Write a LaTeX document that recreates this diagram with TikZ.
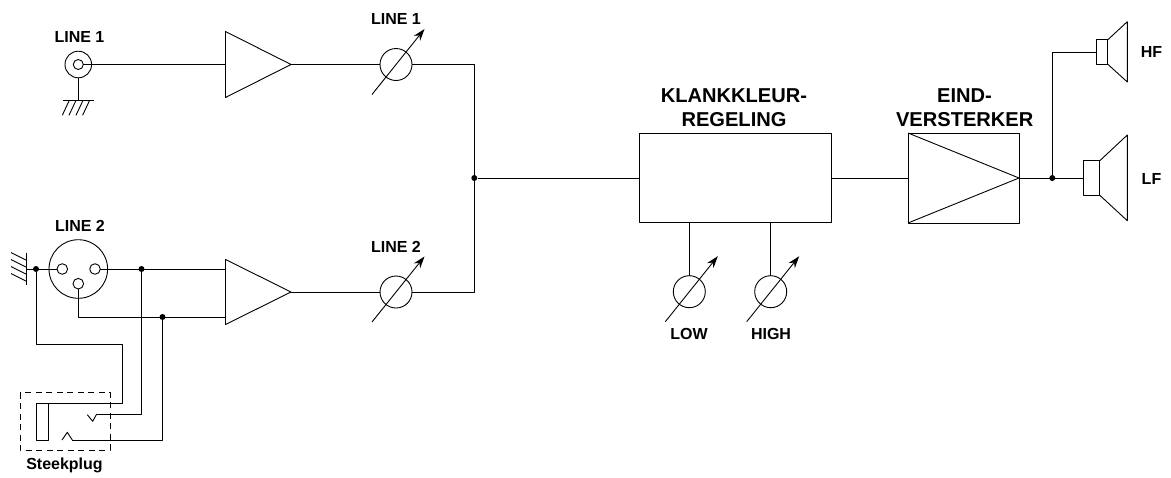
\documentclass[tikz,border=0pt]{standalone}
\usepackage{fontspec}
\setmainfont{Liberation Sans}
\usetikzlibrary{arrows.meta}
\tikzset{
  lbl/.style={inner sep=0pt,font=\fontsize{16}{16}\selectfont\bfseries},
  biglbl/.style={inner sep=0pt,font=\fontsize{20.1}{20.1}\selectfont\bfseries},
  ring/.style={draw,circle,inner sep=0pt,outer sep=0pt,minimum size=#1},
  joint/.style={fill,circle,inner sep=0pt,minimum size=6pt},
  unit/.style={draw,inner sep=0pt,outer sep=0pt},
}
\begin{document}
\begin{tikzpicture}[x=1pt,y=-1pt,line join=round,line width=.9pt,>={Stealth[length=12pt,width=8pt]}]
  \useasboundingbox (0,0) rectangle (1171,477);
  % labels
  \node[lbl] (lblA) at (79.5,37) {LINE 1};
  \node[lbl] (lblB) at (80,226) {LINE 2};
  \node[lbl] (lblC) at (396,19) {LINE 1};
  \node[lbl] (lblD) at (396,247) {LINE 2};
  \node[lbl] (lblLow) at (689,334) {LOW};
  \node[lbl] (lblHigh) at (771,334) {HIGH};
  \node[lbl] (lblPlug) at (64.5,465) {Steekplug};
  \node[lbl] (lblHF) at (1151.5,52) {HF};
  \node[lbl] (lblLF) at (1151.5,179) {LF};
  \node[biglbl] (lblTone) at (734,96) {KLANKKLEUR-};
  \node[biglbl] (lblTwo) at (734,119.5) {REGELING};
  \node[biglbl] (lblEnd) at (964.5,96) {EIND-};
  \node[biglbl] (lblVerst) at (964.7,119.5) {VERSTERKER};
  % inputs
  \node[ring=26.6pt] (jack) at (78.3,64.5) {};
  \node[ring=10pt] (jackin) at (78.3,64.5) {};
  \coordinate (gndA) at (78.3,100.7);
  \draw (jack) -- (gndA);
  \draw (62.7,100.7) -- (94,100.7);
  \foreach \x in {69,75.7,82.7,89.3}
    \draw (\x,101) -- ++(-6.7,14.3);
  \node[ring=58.6pt] (xlr) at (78.3,269) {};
  \node[ring=10.6pt] (pinL) at (62.3,269) {};
  \node[ring=10.6pt] (pinR) at (95,269) {};
  \node[ring=10.6pt] (pinB) at (78.3,283.7) {};
  \coordinate (gndB) at (26,269);
  \draw (26,252.7) -- (26,284.7);
  \foreach \y in {260,267,274,281}
    \draw (26,\y) -- ++(-15,-7.5);
  \node[joint] (dotG) at (36,269) {};
  \node[joint] (dotR) at (141.5,269) {};
  \node[joint] (dotB) at (162.5,317) {};
  \draw (gndB) -- (pinL);
  % amplifiers
  \coordinate (ampAi) at (225.5,64.5);
  \coordinate (ampAo) at (291,64.5);
  \draw (225.5,31.5) -- (ampAo) -- (225.5,97.5) -- cycle;
  \coordinate (ampBi) at (225.5,269);
  \coordinate (ampBj) at (225.5,317);
  \coordinate (ampBo) at (291,292);
  \draw (225.5,259.5) -- (ampBo) -- (225.5,324.5) -- cycle;
  \draw (jackin) -- (ampAi);
  \draw (pinR) -- (ampBi);
  \draw (pinB) |- (ampBj);
  % pots
  \foreach \name/\px/\py in {potA/396/64.5,potB/396/292,potL/689.3/291.7,potH/770.7/291.7}{
    \node[ring=32pt] (\name) at (\px,\py) {};
    \draw[->] (\name.center) ++(-24,30) -- ++(52.5,-65.5);
  }
  \node[joint] (dotM) at (474.3,178) {};
  \draw (ampAo) -- (potA);
  \draw (ampBo) -- (potB);
  \draw (potA) -| (dotM);
  \draw (potB) -| (dotM);
  % tone block and power stage
  \node[unit,minimum width=192pt,minimum height=89pt] (tone) at (735,178) {};
  \draw (dotM) -- (tone);
  \draw (potL) -- (potL |- tone.south);
  \draw (potH) -- (potH |- tone.south);
  \node[unit,minimum width=111pt,minimum height=90pt] (power) at (963.5,178) {};
  \coordinate (powerOut) at (power.east);
  \draw (power.north west) -- (powerOut) -- (power.south west);
  \draw (tone) -- (power);
  % speakers
  \node[joint] (dotS) at (1052.3,178) {};
  \node[unit,minimum width=16.4pt,minimum height=34.4pt] (coilL) at (1091.5,178) {};
  \node[unit,minimum width=11pt,minimum height=24.3pt] (coilH) at (1102.2,52) {};
  \draw (coilL.north east) -- (1127.3,135) -- (1127.3,220.7) -- (coilL.south east);
  \draw (coilH.north east) -- (1127.3,21.7) -- (1127.3,82) -- (coilH.south east);
  \draw (powerOut) -- (coilL);
  \draw (dotS) |- (coilH);
  % plug
  \draw[dashed,dash pattern=on 6pt off 4.5pt] (20,392.7) rectangle (110,450);
  \coordinate (sleeve) at (48.3,403);
  \draw (36.7,403) rectangle (48.3,440);
  \coordinate (tipA) at (96.7,414);
  \coordinate (tipB) at (72.3,440);
  \draw (87.3,414.7) -- (92.7,421.3) -- (tipA);
  \draw (62,440) -- (67.3,432.3) -- (tipB);
  \draw (dotG) |- (122.3,344.3) |- (sleeve);
  \draw (dotR) |- (tipA);
  \draw (dotB) |- (tipB);
\end{tikzpicture}
\end{document}
